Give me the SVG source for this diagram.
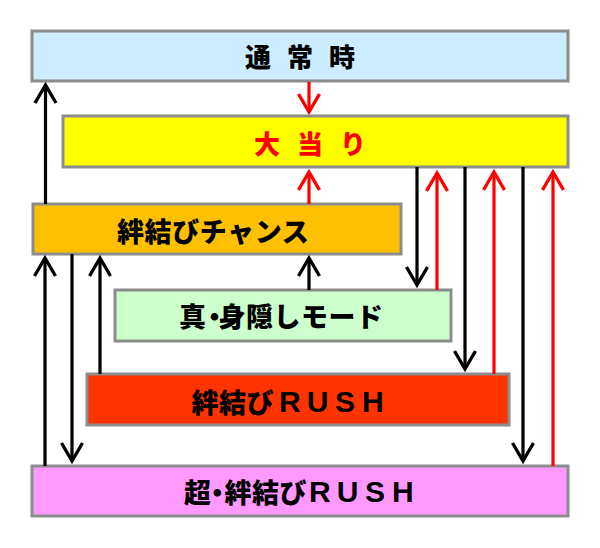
<svg xmlns="http://www.w3.org/2000/svg" width="600" height="548" viewBox="0 0 600 548">
<style>
.box{stroke:#8c8c8c;stroke-width:3}
.lbl{font-family:"Noto Sans CJK JP","Noto Sans CJK SC",sans-serif;font-weight:900;dominant-baseline:central;fill:#000}
.lat{font-family:"Liberation Sans",Arial,sans-serif;font-weight:bold;font-size:30px}
.k{stroke:#000;stroke-width:3.2;fill:none;marker-end:url(#ak)}
.r{stroke:#ff0000;stroke-width:3.2;fill:none;marker-end:url(#ar)}
</style>
<defs>
<marker id="ak" markerUnits="userSpaceOnUse" orient="auto" refX="0" refY="0" markerWidth="30" markerHeight="30" overflow="visible">
<path d="M-18,-10.5 L0,0 L-18,10.5" fill="none" stroke="#000" stroke-width="3.4"/>
</marker>
<marker id="ar" markerUnits="userSpaceOnUse" orient="auto" refX="0" refY="0" markerWidth="30" markerHeight="30" overflow="visible">
<path d="M-18,-10.5 L0,0 L-18,10.5" fill="none" stroke="#ff0000" stroke-width="3.4"/>
</marker>
</defs>
<rect width="600" height="548" fill="#fff"/>
<g id="tsujo">
<rect class="box" x="32" y="31" width="536" height="50" fill="#ccecff"/>
<text class="lbl" x="245" y="55.5" font-size="26" letter-spacing="16">通常時</text>
</g>
<g id="oatari">
<rect class="box" x="63" y="116" width="505" height="51" fill="#ffff00"/>
<text class="lbl" x="254" y="142.5" font-size="26" letter-spacing="17" style="fill:#ff0000">大当り</text>
</g>
<g id="chance">
<rect class="box" x="33" y="204" width="368" height="50" fill="#ffc000"/>
<text class="lbl" x="117" y="230" font-size="27" letter-spacing="0.6">絆結びチャンス</text>
</g>
<g id="mode">
<rect class="box" x="115" y="290" width="336" height="51" fill="#ccffcc"/>
<text class="lbl" x="179 201 218.5 246 273.5 301 328.5 356" y="315.5" font-size="27">真・身隠しモード</text>
</g>
<g id="rush">
<rect class="box" x="87" y="374" width="422" height="51" fill="#ff3300"/>
<text class="lbl" y="400.5" font-size="27"><tspan x="191.5 219 246.5">絆結び</tspan><tspan class="lat" x="279 306.7 334.9 362">RUSH</tspan></text>
</g>
<g id="super">
<rect class="box" x="32" y="466" width="536" height="50" fill="#ff99ff"/>
<text class="lbl" y="491" font-size="27"><tspan x="184 203.7 224.5 252 279.5">超・絆結び</tspan><tspan class="lat" x="309 336.7 364.9 392">RUSH</tspan></text>
</g>
<g id="connectors">
<line class="k" x1="45.5" y1="204" x2="45.5" y2="85"/>
<line class="r" x1="309" y1="82" x2="309" y2="112"/>
<line class="r" x1="309" y1="204" x2="309" y2="172"/>
<line class="k" x1="417" y1="167" x2="417" y2="285"/>
<line class="r" x1="437" y1="290" x2="437" y2="173"/>
<line class="k" x1="465" y1="167" x2="465" y2="369"/>
<line class="r" x1="494" y1="374" x2="494" y2="172"/>
<line class="k" x1="523" y1="167" x2="523" y2="461"/>
<line class="r" x1="553" y1="466" x2="553" y2="172"/>
<line class="k" x1="45" y1="466" x2="45" y2="258"/>
<line class="k" x1="72" y1="254" x2="72" y2="461"/>
<line class="k" x1="100" y1="374" x2="100" y2="258"/>
<line class="k" x1="309" y1="290" x2="309" y2="258"/>
</g>
</svg>
